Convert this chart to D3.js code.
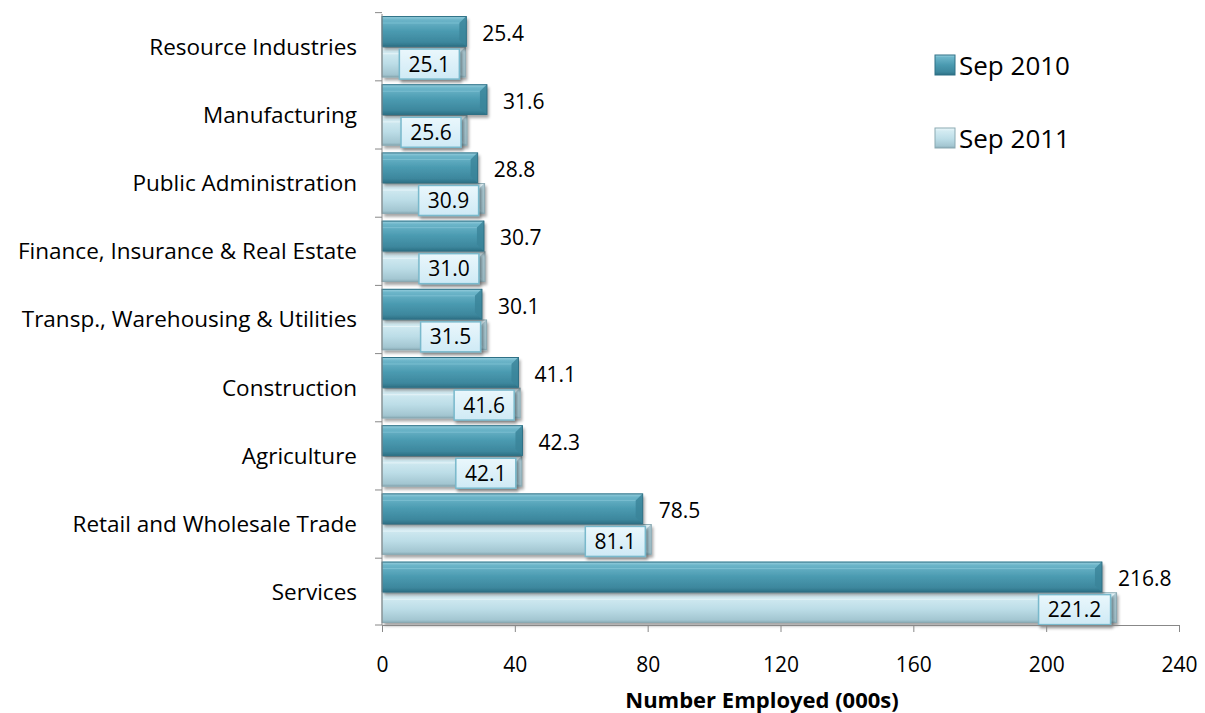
<!DOCTYPE html>
<html>
<head>
<meta charset="utf-8">
<script src="https://cdn.jsdelivr.net/npm/d3@7"></script>
<style>
  body { margin: 0; background: #fff; }
  text { font-family: "Open Sans", Lato, sans-serif; fill: #000; }
</style>
</head>
<body>
<div id="chart"></div>
<script>
// data
const categories = [
  'Resource Industries', 'Manufacturing', 'Public Administration',
  'Finance, Insurance & Real Estate', 'Transp., Warehousing & Utilities',
  'Construction', 'Agriculture', 'Retail and Wholesale Trade', 'Services',
];
const seriesNames = ['Sep 2010', 'Sep 2011'];
const sep2010 = [25.4, 31.6, 28.8, 30.7, 30.1, 41.1, 42.3, 78.5, 216.8];
const sep2011 = [25.1, 25.6, 30.9, 31.0, 31.5, 41.6, 42.1, 81.1, 221.2];
const xTicks = [0, 40, 80, 120, 160, 200, 240];

const width = 1205;
const height = 713;
const margin = {
  top: 14, right: 26, bottom: 88, left: 382,
};
const innerW = width - margin.left - margin.right;
const innerH = height - margin.top - margin.bottom;
const fontSize = '21px';

const data = categories.map((c, i) => ({
  cat: c,
  vals: [{ s: 0, v: sep2010[i] }, { s: 1, v: sep2011[i] }],
}));

const x = d3.scaleLinear().domain([0, 240]).range([0, innerW]);
const y = d3.scaleBand().domain(categories).range([0, innerH])
  .paddingInner(0.1)
  .paddingOuter(0.03);
const ySub = d3.scaleBand().domain([0, 1]).range([0, y.bandwidth()]);

const svg = d3.select('#chart').append('svg')
  .attr('width', width)
  .attr('height', height);

const defs = svg.append('defs');

// bar gradients (glassy 3d look)
const gDark = defs.append('linearGradient').attr('id', 'gDark')
  .attr('x1', 0).attr('y1', 0).attr('x2', 0).attr('y2', 1);
[[0, '#9fd3e1'], [0.12, '#6cb5c9'], [0.5, '#4a9ab0'], [0.85, '#3d879d'], [1, '#2c6f83']]
  .forEach(([o, c]) => gDark.append('stop').attr('offset', o).attr('stop-color', c));

const gLight = defs.append('linearGradient').attr('id', 'gLight')
  .attr('x1', 0).attr('y1', 0).attr('x2', 0).attr('y2', 1);
[[0, '#eef8fb'], [0.15, '#d3ebf2'], [0.55, '#bcdde7'], [0.9, '#a3c6d1'], [1, '#86a9b4']]
  .forEach(([o, c]) => gLight.append('stop').attr('offset', o).attr('stop-color', c));

const gBox = defs.append('linearGradient').attr('id', 'gBox')
  .attr('x1', 0).attr('y1', 0).attr('x2', 0).attr('y2', 1);
[[0, '#eaf7fc'], [1, '#cfeaf5']]
  .forEach(([o, c]) => gBox.append('stop').attr('offset', o).attr('stop-color', c));

const shadow = defs.append('filter').attr('id', 'shadow')
  .attr('x', '-10%').attr('y', '-30%').attr('width', '130%').attr('height', '170%');
shadow.append('feGaussianBlur').attr('in', 'SourceAlpha').attr('stdDeviation', 1.5);
shadow.append('feOffset').attr('dx', 2).attr('dy', 3).attr('result', 'b');
shadow.append('feComponentTransfer').append('feFuncA').attr('type', 'linear').attr('slope', 0.35);
const merge = shadow.append('feMerge');
merge.append('feMergeNode');
merge.append('feMergeNode').attr('in', 'SourceGraphic');

const fills = ['url(#gDark)', 'url(#gLight)'];
const edge = ['#2f7186', '#8aa9b2'];

const g = svg.append('g')
  .attr('transform', `translate(${margin.left},${margin.top})`);

// bars
const groups = g.selectAll('.cat')
  .data(data)
  .enter().append('g')
  .attr('class', 'cat')
  .attr('transform', d => `translate(0,${y(d.cat)})`);

const bars = groups.selectAll('.bar')
  .data(d => d.vals)
  .enter().append('g')
  .attr('class', 'bar');

// light bar underneath, dark one on top
bars.sort((a, b) => b.s - a.s);

bars.append('rect')
  .attr('x', 0)
  .attr('y', d => ySub(d.s))
  .attr('width', d => x(d.v))
  .attr('height', ySub.bandwidth())
  .attr('fill', d => fills[d.s])
  .attr('filter', 'url(#shadow)');

// bevelled right face
const bev = 7;
bars.append('path')
  .attr('d', (d) => {
    const x1 = x(d.v);
    const y0 = ySub(d.s);
    const h = ySub.bandwidth();
    return `M${x1 - bev},${y0 + bev}L${x1},${y0}L${x1},${y0 + h}L${x1 - bev},${y0 + h - bev}Z`;
  })
  .attr('fill', d => (d.s === 0 ? '#3a8399' : '#9dbcc6'))
  .attr('opacity', 0.8);
bars.append('path')
  .attr('d', (d) => {
    const x1 = x(d.v);
    const y0 = ySub(d.s);
    return `M0,${y0 + bev}L${x1 - bev},${y0 + bev}`;
  })
  .attr('stroke', d => (d.s === 0 ? '#8ccadb' : '#f4fbfd'))
  .attr('stroke-width', 1)
  .attr('opacity', 0.6);
bars.append('rect')
  .attr('x', 0)
  .attr('y', d => ySub(d.s) + 0.5)
  .attr('width', d => x(d.v))
  .attr('height', ySub.bandwidth() - 1)
  .attr('fill', 'none')
  .attr('stroke', d => edge[d.s])
  .attr('stroke-width', 1);

// Sep 2010 value labels
groups.append('text')
  .attr('x', d => x(d.vals[0].v) + 16)
  .attr('y', d => ySub(0) + ySub.bandwidth() / 2 + 2)
  .attr('dy', '.35em')
  .style('font-size', fontSize)
  .text(d => d.vals[0].v.toFixed(1));

// Sep 2011 value labels in boxes
const boxW = 60;
const boxH = 30;
const wide = v => (v >= 100 ? 12 : 0);
const lab = groups.append('g')
  .attr('transform', d => `translate(${x(d.vals[1].v) - 6 - boxW},${ySub(1) + ySub.bandwidth() / 2 + 2 - boxH / 2})`);
lab.append('rect')
  .attr('x', d => -wide(d.vals[1].v))
  .attr('width', d => boxW + wide(d.vals[1].v))
  .attr('height', boxH)
  .attr('fill', 'url(#gBox)')
  .attr('stroke', '#79b9cc')
  .attr('stroke-width', 1.5)
  .attr('filter', 'url(#shadow)');
lab.append('text')
  .attr('x', d => (boxW - wide(d.vals[1].v)) / 2)
  .attr('y', boxH / 2)
  .attr('dy', '.36em')
  .style('text-anchor', 'middle')
  .style('font-size', fontSize)
  .text(d => d.vals[1].v.toFixed(1));

// y axis (line with ticks at category boundaries)
const yAxis = g.append('g').attr('class', 'y axis');
yAxis.append('line')
  .attr('x1', 0).attr('x2', 0)
  .attr('y1', 0).attr('y2', innerH)
  .attr('stroke', '#888');
const bounds = categories.map(c => y(c) - (y.step() - y.bandwidth()) / 2).concat([innerH]);
yAxis.selectAll('.tick')
  .data(bounds)
  .enter().append('line')
  .attr('x1', -7).attr('x2', 0)
  .attr('y1', d => d).attr('y2', d => d)
  .attr('stroke', '#888');
yAxis.selectAll('.lab')
  .data(categories)
  .enter().append('text')
  .attr('x', -25)
  .attr('y', c => y(c) + y.bandwidth() / 2)
  .attr('dy', '.35em')
  .style('text-anchor', 'end')
  .style('font-size', '22.5px')
  .text(c => c);

// x axis
const xAxis = g.append('g')
  .attr('class', 'x axis')
  .attr('transform', `translate(0,${innerH})`)
  .call(d3.axisBottom(x).tickValues(xTicks).tickSize(7).tickPadding(25).tickSizeOuter(0));
xAxis.select('.domain').attr('stroke', '#888');
xAxis.selectAll('.tick line').attr('stroke', '#888');
xAxis.selectAll('.tick text')
  .style('font-size', fontSize)
  .style('font-family', '"Open Sans", sans-serif');

svg.append('text')
  .attr('x', 762)
  .attr('y', 700)
  .attr('dy', '.35em')
  .style('text-anchor', 'middle')
  .style('font-size', '22px')
  .style('font-weight', 'bold')
  .text('Number Employed  (000s)');

// legend
const legend = svg.selectAll('.legend')
  .data(seriesNames)
  .enter().append('g')
  .attr('class', 'legend')
  .attr('transform', (d, i) => `translate(935,${55 + i * 73})`);
legend.append('rect')
  .attr('width', 20)
  .attr('height', 20)
  .attr('fill', (d, i) => fills[i])
  .attr('stroke', (d, i) => edge[i]);
legend.append('text')
  .attr('x', 24)
  .attr('y', 11)
  .attr('dy', '.35em')
  .style('font-size', '26px')
  .text(d => d);
</script>
</body>
</html>
